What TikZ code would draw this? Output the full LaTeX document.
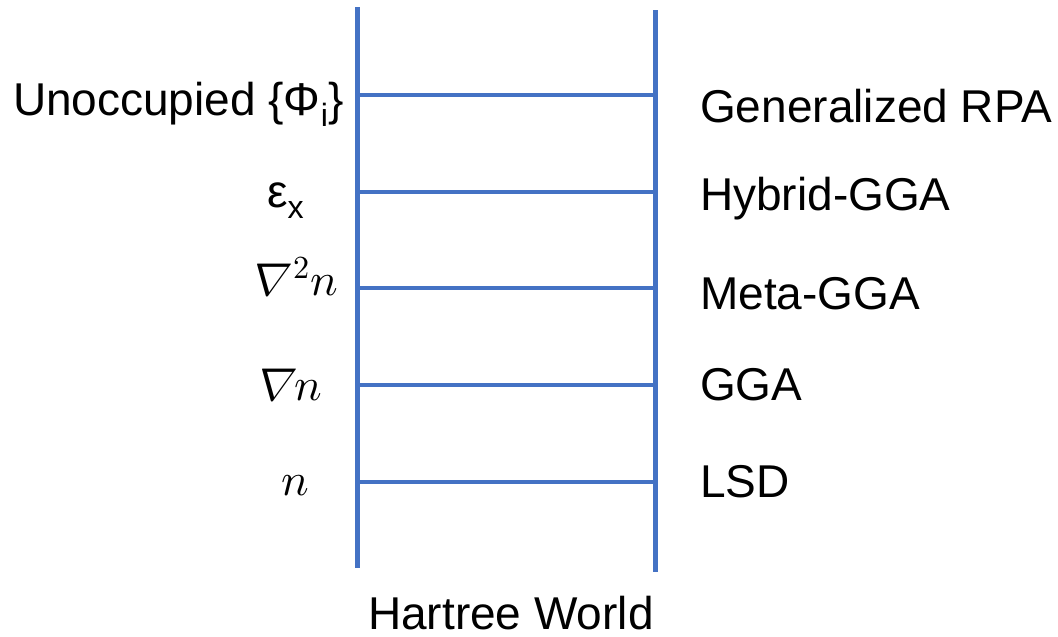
\documentclass[tikz,border=0pt]{standalone}
\usepackage{fontspec}
\usepackage{unicode-math}
\setmainfont{Liberation Sans}
\setmathfont{Latin Modern Math}
\newfontfamily\nablafont[FakeSlant=0.22]{Latin Modern Math}
\definecolor{railblue}{HTML}{4472C4}
\tikzset{
  rail/.style={draw=railblue, line width=5pt},
  rung/.style={draw=railblue, line width=4.5pt},
  lbl/.style={inner sep=0pt, font=\fontsize{46}{55}\selectfont},
}
\begin{document}
\begin{tikzpicture}[x=1pt, y=-1pt]
\useasboundingbox (0,0) rectangle (1058,637);
% rails
\coordinate (LT) at (357,7);
\coordinate (LB) at (357,568);
\coordinate (RT) at (655.5,10);
\coordinate (RB) at (655.5,572);
\draw[rail] (LT) -- (LB);
\draw[rail] (RT) -- (RB);
% rungs
\foreach \i/\y in {1/95,2/192,3/288,4/385,5/482}{
  \coordinate (l\i) at (357,\y);
  \coordinate (r\i) at (655.5,\y);
  \draw[rung] (l\i) -- (r\i);
}
% left labels
\node[lbl, anchor=base east] (unocc) at (344,115) {Unoccupied \{Φ\textsubscript{i}\}};
\node[lbl, anchor=base west] (epsx) at (267,207) {ε\textsubscript{x}};
\node[lbl, anchor=base west] (lap) at (248,295) {{\nablafont ∇}\kern7pt$^{2}n$};
\node[lbl, anchor=base west] (grad) at (253,400) {{\nablafont ∇}\kern3pt$n$};
\node[lbl, anchor=base west] (dens) at (281,495) {$n$};
% right labels
\node[lbl, anchor=base west] (rpa) at (700,122) {Generalized RPA};
\node[lbl, anchor=base west] (hyb) at (700,210) {Hybrid-GGA};
\node[lbl, anchor=base west] (meta) at (700,309) {Meta-GGA};
\node[lbl, anchor=base west] (gga) at (700,400) {GGA};
\node[lbl, anchor=base west] (lsd) at (700,497) {LSD};
% bottom
\node[lbl, anchor=base west] (hw) at (368,629) {Hartree World};
\end{tikzpicture}
\end{document}
